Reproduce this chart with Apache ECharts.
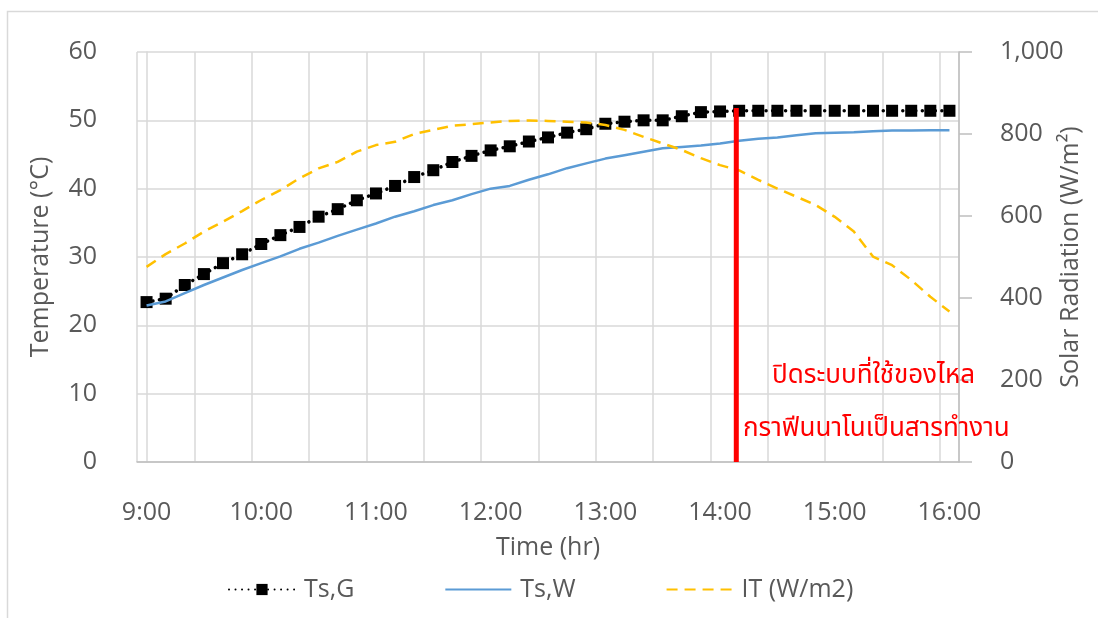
<!DOCTYPE html>
<html>
<head>
<meta charset="utf-8">
<script src="https://cdn.jsdelivr.net/npm/echarts@6/dist/echarts.min.js"></script>
<style>
html,body{margin:0;padding:0;background:#fff;}
#chart{width:1098px;height:618px;}
</style>
</head>
<body>
<div id="chart"></div>
<script>
const times = ["9:00","9:10","9:20","9:30","9:40","9:50","10:00","10:10","10:20","10:30","10:40","10:50",
  "11:00","11:10","11:20","11:30","11:40","11:50","12:00","12:10","12:20","12:30","12:40","12:50",
  "13:00","13:10","13:20","13:30","13:40","13:50","14:00","14:10","14:20","14:30","14:40","14:50",
  "15:00","15:10","15:20","15:30","15:40","15:50","16:00"];
const tsG = [23.4,23.9,25.9,27.5,29.1,30.4,31.9,33.2,34.4,35.9,37.0,38.3,
  39.3,40.4,41.7,42.7,43.9,44.8,45.6,46.2,46.9,47.5,48.2,48.7,
  49.5,49.8,50.0,50.0,50.6,51.2,51.3,51.4,51.4,51.4,51.4,51.4,
  51.4,51.4,51.4,51.4,51.4,51.4,51.4];
const tsW = [22.9,23.5,24.7,25.9,27.0,28.1,29.1,30.1,31.2,32.1,33.1,34.0,
  34.9,35.9,36.7,37.6,38.3,39.2,40.0,40.4,41.3,42.1,43.0,43.7,
  44.4,44.9,45.4,45.9,46.1,46.3,46.6,47.0,47.3,47.5,47.8,48.1,
  48.2,48.25,48.4,48.5,48.5,48.55,48.55];
const itRad = [476,507,533,562,586,612,639,663,692,716,732,757,
  773,781,800,810,820,824,828,832,833,832,830,828,
  822,810,793,777,761,741,724,711,688,667,647,627,
  598,562,501,480,444,403,367];
const shutdownPos = [30.85];      // position on the time axis (category index)
const shutdownRange = [0, 51.8];  // temperature span of the marker line
const noteLines = ["ปิดระบบที่ใช้ของไหล", "กราฟีนนาโนเป็นสารทำงาน"];

const FONT = "'Segoe UI','Open Sans','Noto Sans',sans-serif";
const THAI = "'Leelawadee UI','Noto Sans Thai','Loma','Garuda',sans-serif";
const TXT = '#595959';

const chart = echarts.init(document.getElementById('chart'));
chart.setOption({
  animation: false,
  backgroundColor: '#fff',
  textStyle: {fontFamily: FONT},
  grid: {left: 137, right: 139, top: 52, bottom: 156, containLabel: false, outerBoundsMode: 'none'},
  legend: {
    bottom: 11, left: 223,
    itemWidth: 66, itemHeight: 14, itemGap: 90,
    textStyle: {fontSize: 25, color: TXT, fontFamily: FONT, padding: [0,0,0,4]},
    data: [
      {name: 'Ts,G'},
      {name: 'Ts,W', itemStyle: {opacity: 0}},
      {name: 'IT (W/m2)', itemStyle: {opacity: 0}}
    ]
  },
  xAxis: [{
    type: 'category', data: times, boundaryGap: true,
    name: 'Time (hr)', nameLocation: 'middle', nameGap: 73, nameMoveOverlap: false,
    nameTextStyle: {fontSize: 25, color: TXT, fontFamily: FONT},
    axisLine: {show: true, lineStyle: {color: '#bfbfbf', width: 1.5}},
    axisTick: {show: false, interval: 2},
    axisLabel: {interval: 5, margin: 38, fontSize: 25, color: TXT, fontFamily: FONT},
    splitLine: {show: true, interval: 2, lineStyle: {color: '#d9d9d9', width: 1.5}}
  },{
    type: 'value', min: -0.5, max: 42.5, show: false
  }],
  yAxis: [{
    type: 'value', min: 0, max: 60, interval: 10,
    name: 'Temperature (°C)', nameLocation: 'middle', nameGap: 84, nameMoveOverlap: false,
    nameTextStyle: {fontSize: 25, color: TXT, fontFamily: FONT},
    axisLine: {show: true, lineStyle: {color: '#d9d9d9', width: 1.5}},
    axisTick: {show: false},
    axisLabel: {margin: 40, fontSize: 25, color: TXT, fontFamily: FONT, padding: [0,0,7,0]},
    splitLine: {show: true, lineStyle: {color: '#d9d9d9', width: 1.5}}
  },{
    type: 'value', min: 0, max: 1000, interval: 200, position: 'right',
    name: 'Solar Radiation (W/m²)', nameLocation: 'middle', nameGap: 99, nameMoveOverlap: false,
    nameTextStyle: {fontSize: 25, color: TXT, fontFamily: FONT},
    axisLine: {show: true, lineStyle: {color: '#bfbfbf', width: 1.5}},
    axisTick: {show: true, length: 13, inside: false, lineStyle: {color: '#bfbfbf', width: 1.5}},
    axisLabel: {margin: 41, fontSize: 25, color: TXT, fontFamily: FONT, align: 'left', padding: [0,0,7,0],
      formatter: v => v >= 1000 ? (Math.floor(v/1000) + ',' + String(v % 1000).padStart(3,'0')) : String(v)},
    splitLine: {show: false}
  }],
  graphic: [
    {type: 'rect', shape: {x: 7.5, y: 11.5, width: 1100, height: 620}, style: {fill: 'none', stroke: '#d9d9d9', lineWidth: 1.5}, silent: true, z: -10},
    {type: 'text', x: 772, y: 378, style: {text: noteLines[0], fill: '#ff0000', font: '26px ' + THAI, verticalAlign: 'middle', align: 'left'}, z: 100},
    {type: 'text', x: 743, y: 431, style: {text: noteLines[1], fill: '#ff0000', font: '26px ' + THAI, verticalAlign: 'middle', align: 'left'}, z: 100}
  ],
  series: [
    {
      name: 'Ts,G', type: 'line', data: tsG, xAxisIndex: 0, yAxisIndex: 0,
      symbol: 'rect', symbolSize: 12, showSymbol: true,
      itemStyle: {color: '#000'},
      lineStyle: {color: '#000', width: 3.5, type: [0.01, 6.5], cap: 'round'},
      z: 3
    },
    {
      name: 'Ts,W', type: 'line', data: tsW, xAxisIndex: 0, yAxisIndex: 0,
      symbol: 'none', showSymbol: false,
      itemStyle: {color: '#5B9BD5'},
      lineStyle: {color: '#5B9BD5', width: 2.5},
      z: 4
    },
    {
      name: 'IT (W/m2)', type: 'line', data: itRad, xAxisIndex: 0, yAxisIndex: 1,
      symbol: 'none', showSymbol: false,
      itemStyle: {color: '#FFC000'},
      lineStyle: {color: '#FFC000', width: 2.5, type: [11, 7]},
      z: 5
    },
    {
      name: 'shutdown', type: 'line', xAxisIndex: 1, yAxisIndex: 0,
      data: shutdownRange.map(v => [shutdownPos[0], v]),
      symbol: 'none', showSymbol: false,
      lineStyle: {color: '#ff0000', width: 5},
      z: 10, silent: true
    }
  ]
});
</script>
</body>
</html>
